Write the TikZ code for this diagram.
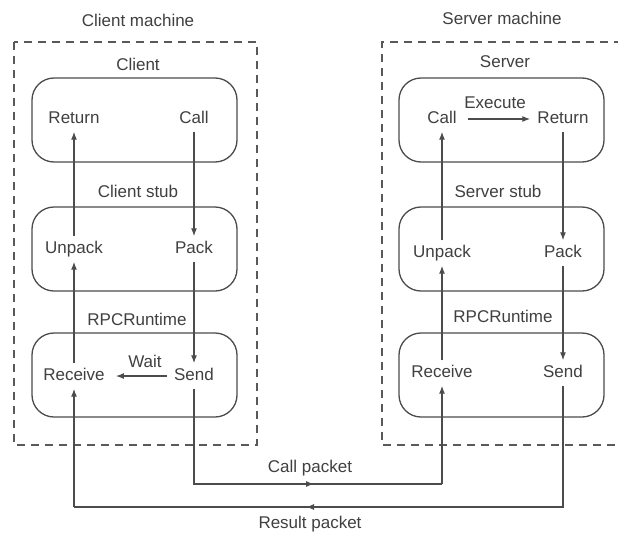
\documentclass[tikz,border=0pt]{standalone}
\usepackage{fontspec}
\setmainfont{Liberation Sans}
\usetikzlibrary{arrows.meta}
\begin{document}
\begin{tikzpicture}[x=1pt,y=-1pt,
  font=\fontsize{17}{19}\selectfont,
  txt/.style={text=black!75, inner xsep=2pt, inner ysep=5pt, text height=12pt, text depth=3pt},
  procbox/.style={draw=black!70, line width=1.3pt, rounded corners=22pt, minimum width=205pt, minimum height=84pt},
  machine/.style={draw=black!65, line width=1.6pt, dash pattern=on 8pt off 6pt},
  arr/.style={-{Latex[length=8pt,width=6pt]}, line width=1.2pt, draw=black!70},
  wire/.style={line width=1.2pt, draw=black!70}]
\useasboundingbox (0,0) rectangle (618,533);
\fill[white] (0,0) rectangle (618,533);

% machines
\draw[machine] (14,42) rectangle (257,445);
\draw[machine] (622,42) -- (382,42) -- (382,445) -- (622,445);
\node[txt] (clientmachine) at (138,22) {Client machine};
\node[txt] (servermachine) at (502,20) {Server machine};

% client side boxes
\node[procbox] (cbox) at (134.5,120) {};
\node[procbox] (cstubbox) at (134.5,249) {};
\node[procbox] (crtbox) at (134.5,375) {};
\node[txt] (clientlbl) at (138,66) {Client};
\node[txt] (cstublbl) at (138,193) {Client stub};
\node[txt] (crtlbl) at (137,321) {RPCRuntime};

\node[txt] (creturn) at (74,119) {Return};
\node[txt] (ccall) at (194,119) {Call};
\node[txt] (cunpack) at (74,249) {Unpack};
\node[txt] (cpack) at (194,249) {Pack};
\node[txt] (creceive) at (74,376) {Receive};
\node[txt] (csend) at (194,376) {Send};

% server side boxes
\node[procbox] (sbox) at (501.5,120) {};
\node[procbox] (sstubbox) at (501.5,249) {};
\node[procbox] (srtbox) at (501.5,375) {};
\node[txt] (serverlbl) at (505,63) {Server};
\node[txt] (sstublbl) at (498,193) {Server stub};
\node[txt] (srtlbl) at (503,318) {RPCRuntime};

\node[txt] (scall) at (442,119) {Call};
\node[txt] (sreturn) at (563,119) {Return};
\node[txt] (sunpack) at (442,253) {Unpack};
\node[txt] (spack) at (563,253) {Pack};
\node[txt] (sreceive) at (442,373) {Receive};
\node[txt] (ssend) at (563,373) {Send};

% client arrows
\draw[arr] (ccall.south) -- (cpack.north);
\draw[arr] (cpack.south) -- (csend.north);
\draw[arr] (cunpack.north) -- (creturn.south);
\draw[arr] (creceive.north) -- (cunpack.south);
\draw[arr, shorten <=5pt, shorten >=9pt] (csend.west) -- (creceive.east);
\node[txt] (waitlbl) at (145,363) {Wait};

% server arrows
\draw[arr, shorten <=9pt, shorten >=5pt] (scall.east) -- (sreturn.west);
\node[txt] (execlbl) at (495,104) {Execute};
\draw[arr] (sreturn.south) -- (spack.north);
\draw[arr] (spack.south) -- (ssend.north);
\draw[arr] (sunpack.north) -- (scall.south);
\draw[arr] (sreceive.north) -- (sunpack.south);

% packets
\coordinate (callcorner) at (194,484);
\coordinate (callend) at (442,484);
\coordinate (callmid) at (314,484);
\draw[wire] (csend.south) -- (callcorner) -- (callend);
\draw[arr] (callend) -- (sreceive.south);
\draw[arr] (callcorner) -- (callmid);
\node[txt] (callpkt) at (310,468) {Call packet};

\coordinate (rescorner) at (563,507);
\coordinate (resend) at (74,507);
\coordinate (resmid) at (306,507);
\draw[wire] (ssend.south) -- (rescorner) -- (resend);
\draw[arr] (resend) -- (creceive.south);
\draw[arr] (rescorner) -- (resmid);
\node[txt] (respkt) at (310,524) {Result packet};
\end{tikzpicture}
\end{document}
